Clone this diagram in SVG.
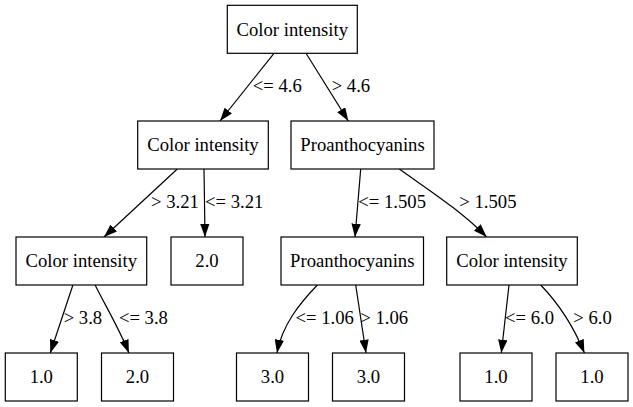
<svg xmlns="http://www.w3.org/2000/svg" width="633" height="407" viewBox="0 0 633 407" font-family="'Liberation Serif', 'Times New Roman', serif" font-size="18.67">
<style>
.box{fill:#fff;stroke:#000;stroke-width:1.2}
text{font-family:'Liberation Serif', 'Times New Roman', serif;font-size:18.67px;fill:#000}
.n text{text-anchor:middle}
.e path{fill:none;stroke:#000;stroke-width:1.2}
</style>
<defs>
<marker id="ah" viewBox="0 0 13.3 9.4" refX="13.3" refY="4.7" markerWidth="13.3" markerHeight="9.4" markerUnits="userSpaceOnUse" orient="auto">
<path d="M0,0 L13.3,4.7 L0,9.4 z" fill="#000"/>
</marker>
</defs>
<rect width="633" height="407" fill="#fff"/>
<g id="edges" class="e">
<path d="M274,53.3 L220,121" marker-end="url(#ah)"/>
<text x="252.7" y="92">&lt;= 4.6</text>
<path d="M306,53.3 L348.3,121" marker-end="url(#ah)"/>
<text x="331.7" y="92">&gt; 4.6</text>
<path d="M177.3,169 L104,237" marker-end="url(#ah)"/>
<text x="151" y="208">&gt; 3.21</text>
<path d="M204,169 L205,237" marker-end="url(#ah)"/>
<text x="205" y="208">&lt;= 3.21</text>
<path d="M360.7,169 L355,237" marker-end="url(#ah)"/>
<text x="358.3" y="208">&lt;= 1.505</text>
<path d="M399.3,169 C430,191 460,210 486.7,237" marker-end="url(#ah)"/>
<text x="459.3" y="208">&gt; 1.505</text>
<path d="M72.9,285 L50.3,353" marker-end="url(#ah)"/>
<text x="63.7" y="324">&gt; 3.8</text>
<path d="M95.1,285 C105,305 120,330 128.9,353" marker-end="url(#ah)"/>
<text x="118.9" y="324">&lt;= 3.8</text>
<path d="M317.4,285 C300,303 282,325 277,353" marker-end="url(#ah)"/>
<text x="295.5" y="324">&lt;= 1.06</text>
<path d="M355.7,285 L366,353" marker-end="url(#ah)"/>
<text x="360.3" y="324">&gt; 1.06</text>
<path d="M509,285 L501.3,353" marker-end="url(#ah)"/>
<text x="505" y="324">&lt;= 6.0</text>
<path d="M540.7,285 C560,305 575,330 584.4,353" marker-end="url(#ah)"/>
<text x="573.3" y="324">&gt; 6.0</text>
</g>
<g id="n0" class="n"><rect class="box" x="227.3" y="5.3" width="130" height="48"/><text x="292.3" y="35.5">Color intensity</text></g>
<g id="n1" class="n"><rect class="box" x="137.7" y="121" width="130.6" height="48"/><text x="203" y="151.2">Color intensity</text></g>
<g id="n2" class="n"><rect class="box" x="291" y="121" width="143" height="48"/><text x="362.5" y="151.2">Proanthocyanins</text></g>
<g id="n3" class="n"><rect class="box" x="16" y="237" width="130.7" height="48"/><text x="81.3" y="267.2">Color intensity</text></g>
<g id="n4" class="n"><rect class="box" x="171" y="237" width="72" height="48"/><text x="207" y="267.2">2.0</text></g>
<g id="n5" class="n"><rect class="box" x="281" y="237" width="142.5" height="48"/><text x="352.3" y="267.2">Proanthocyanins</text></g>
<g id="n6" class="n"><rect class="box" x="446.7" y="237" width="130.6" height="48"/><text x="512" y="267.2">Color intensity</text></g>
<g id="n7" class="n"><rect class="box" x="5.3" y="353" width="72" height="48"/><text x="41.3" y="383.2">1.0</text></g>
<g id="n8" class="n"><rect class="box" x="101.5" y="353" width="72" height="48"/><text x="137.5" y="383.2">2.0</text></g>
<g id="n9" class="n"><rect class="box" x="236.5" y="353" width="72" height="48"/><text x="272.5" y="383.2">3.0</text></g>
<g id="n10" class="n"><rect class="box" x="332.5" y="353" width="72" height="48"/><text x="368.5" y="383.2">3.0</text></g>
<g id="n11" class="n"><rect class="box" x="460" y="353" width="72" height="48"/><text x="496" y="383.2">1.0</text></g>
<g id="n12" class="n"><rect class="box" x="556" y="353" width="72" height="48"/><text x="592" y="383.2">1.0</text></g>
</svg>
